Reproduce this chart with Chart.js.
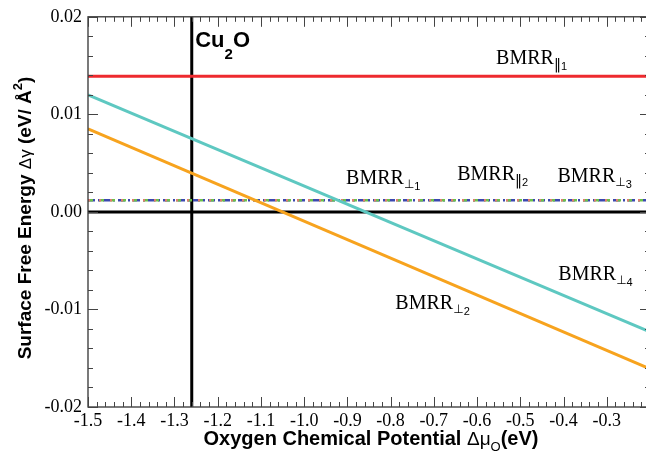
<!DOCTYPE html>
<html><head><meta charset="utf-8">
<script src="https://cdn.jsdelivr.net/npm/chart.js@4/dist/chart.umd.min.js"></script>
<style>
html,body{margin:0;padding:0;background:#fff;overflow:hidden}
#wrap{width:646px;height:457px;overflow:hidden;position:relative}
canvas{display:block}
</style></head><body>
<div id="wrap"><canvas id="c" width="652" height="457"></canvas></div>
<script>
// ---- data ----
const muEnds    = [-1.5, -0.2];          // x (Δμ_O) end points of each line
const bmrrPar1  = [0.0139, 0.0139];
const bmrrPerp1 = [0.0012, 0.0012];
const bmrrPar2  = [0.0012, 0.0012];
const bmrrPerp3 = [0.0012, 0.0012];
const bmrrPerp4 = [0.0120, -0.0123];
const bmrrPerp2 = [0.0085, -0.0161];
const cu2oMu    = -1.26;
const xRange    = [-1.5, -0.2];
const yRange    = [-0.02, 0.02];
const xTickLabels = ['-1.5','-1.4','-1.3','-1.2','-1.1','-1.0','-0.9','-0.8','-0.7','-0.6','-0.5','-0.4','-0.3'];
const yTickLabels = ['-0.02','-0.01','0.00','0.01','0.02'];

// label anchors in data coordinates (x = Δμ, y = Δγ)
const labelSpots = [
  {name:'par1',  x:-0.556, y:0.0152},
  {name:'perp1', x:-0.903, y:0.00286},
  {name:'par2',  x:-0.646, y:0.00327},
  {name:'perp3', x:-0.414, y:0.00306},
  {name:'perp4', x:-0.412, y:-0.00694},
  {name:'perp2', x:-0.789, y:-0.0100},
  {name:'cu2o',  x:-1.252, y:0.01694}
];

const pts = arr => muEnds.map((m,i)=>({x:m, y:arr[i]}));

const SERIF = "'Liberation Serif', 'Times New Roman', serif";
const SANS  = "'Liberation Sans', Arial, sans-serif";

function segWidth(ctx, segs){
  let w=0; for(const s of segs){ctx.font=s.font; w+=ctx.measureText(s.t).width;} return w;
}
function drawSegs(ctx, x, y, segs){
  let cx=x;
  for(const s of segs){
    ctx.font=s.font; ctx.fillText(s.t, cx, y+(s.dy||0)); cx+=ctx.measureText(s.t).width;
  }
}
function bmrr(sym, num){
  const symSeg = sym==='perp'
    ? {t:'⊥', font:"12px 'DejaVu Sans'", dy:4}
    : {t:'‖', font:"14px 'DejaVu Sans'", dy:5};
  return [{t:'BMRR', font:'20px '+SERIF}, symSeg, {t:num, font:'11px '+SANS, dy:6}];
}
const labelSegs = {
  par1: bmrr('par','1'), perp1: bmrr('perp','1'), par2: bmrr('par','2'),
  perp3: bmrr('perp','3'), perp4: bmrr('perp','4'), perp2: bmrr('perp','2'),
  cu2o: [{t:'Cu', font:'bold 22px '+SANS},{t:'2', font:'bold 15px '+SANS, dy:12},{t:'O', font:'bold 22px '+SANS}]
};

const framePlugin = {
  id:'frame',
  afterDatasetsDraw(chart){
    const {ctx, chartArea:a, scales:{x, y}} = chart;
    ctx.save();
    ctx.strokeStyle='#333'; ctx.lineWidth=1.3;
    ctx.strokeRect(a.left, a.top, a.right-a.left, a.bottom-a.top);
    ctx.strokeStyle='#444'; ctx.lineWidth=1;
    ctx.beginPath();
    // x ticks: major 0.1, minor 0.02
    for(let i=0;i<=65;i++){
      const v = xRange[0] + i*0.02;
      const px = Math.round(x.getPixelForValue(v))+0.5;
      const len = (i%5===0)?10:5;
      ctx.moveTo(px, a.bottom); ctx.lineTo(px, a.bottom-len);
      ctx.moveTo(px, a.top); ctx.lineTo(px, a.top+len);
    }
    // y ticks: major 0.01, minor 0.002
    for(let i=0;i<=20;i++){
      const v = yRange[0] + i*0.002;
      const py = Math.round(y.getPixelForValue(v))+0.5;
      const len = (i%5===0)?10:5;
      ctx.moveTo(a.left, py); ctx.lineTo(a.left+len, py);
      ctx.moveTo(a.right, py); ctx.lineTo(a.right-len, py);
    }
    ctx.stroke();

    // annotations
    ctx.fillStyle='#000'; ctx.textBaseline='alphabetic'; ctx.textAlign='left';
    for(const L of labelSpots){
      drawSegs(ctx, x.getPixelForValue(L.x), y.getPixelForValue(L.y), labelSegs[L.name]);
    }

    // axis titles
    const xt = [
      {t:'Oxygen Chemical Potential ', font:'bold 20px '+SANS},
      {t:'Δμ', font:'19px '+SANS},
      {t:'O', font:'13px '+SANS, dy:6},
      {t:'(eV)', font:'bold 20px '+SANS}
    ];
    const wx = segWidth(ctx, xt);
    drawSegs(ctx, 371 - wx/2, 445, xt);

    const yt = [
      {t:'Surface Free Energy ', font:'bold 19px '+SANS},
      {t:'Δγ', font:'17px '+SANS},
      {t:' (eV/ Å', font:'bold 19px '+SANS},
      {t:'2', font:'bold 13px '+SANS, dy:-9},
      {t:')', font:'bold 19px '+SANS}
    ];
    const wy = segWidth(ctx, yt);
    ctx.translate(31, 218); ctx.rotate(-Math.PI/2);
    drawSegs(ctx, -wy/2, 0, yt);
    ctx.restore();
  }
};

const lineDs = (label, data, color, width, dash) => ({
  label, data, borderColor:color, backgroundColor:color, borderWidth:width,
  borderDash:dash||[], pointRadius:0, fill:false, tension:0
});

new Chart(document.getElementById('c'), {
  type:'line',
  data:{ datasets:[
    lineDs('BMRR⊥4', pts(bmrrPerp4), '#5ec8c1', 3),
    lineDs('BMRR⊥2', pts(bmrrPerp2), '#f7a31e', 3),
    lineDs('BMRR‖1', pts(bmrrPar1), '#ee2a2e', 3),
    lineDs('BMRR⊥1', pts(bmrrPerp1), '#e07a70', 2.5, [2,9]),
    lineDs('BMRR‖2', pts(bmrrPar2), '#6cc04a', 2.5, [5,6]),
    lineDs('BMRR⊥3', pts(bmrrPerp3), '#3b48b0', 2.5, [7,3,2,3]),
    lineDs('zero', [{x:xRange[0],y:0},{x:xRange[1],y:0}], '#000', 3),
    lineDs('Cu2O', [{x:cu2oMu,y:yRange[0]},{x:cu2oMu,y:yRange[1]}], '#000', 3)
  ]},
  options:{
    responsive:false, animation:false, devicePixelRatio:1,
    layout:{padding:{top:15,right:2,left:0,bottom:0}},
    plugins:{legend:{display:false}, tooltip:{enabled:false}},
    scales:{
      x:{type:'linear', min:xRange[0], max:xRange[1],
        grid:{display:false, drawTicks:false}, border:{display:false},
        afterBuildTicks:s=>{ s.ticks = xTickLabels.map(v=>({value:parseFloat(v)})); },
        ticks:{padding:3, color:'#000', font:{family:SERIF, size:18}, maxRotation:0, autoSkip:false,
          callback:(v)=> xTickLabels.find(t=>Math.abs(parseFloat(t)-v)<1e-6) || ''},
        afterFit:s=>{ s.height = 50; }
      },
      y:{type:'linear', min:yRange[0], max:yRange[1],
        grid:{display:false, drawTicks:false}, border:{display:false},
        afterBuildTicks:s=>{ s.ticks = yTickLabels.map(v=>({value:parseFloat(v)})); },
        ticks:{padding:6, color:'#000', font:{family:SERIF, size:18}, autoSkip:false,
          callback:(v)=> yTickLabels.find(t=>Math.abs(parseFloat(t)-v)<1e-9) || ''},
        afterFit:s=>{ s.width = 88; }
      }
    }
  },
  plugins:[framePlugin]
});
</script>
</body></html>
